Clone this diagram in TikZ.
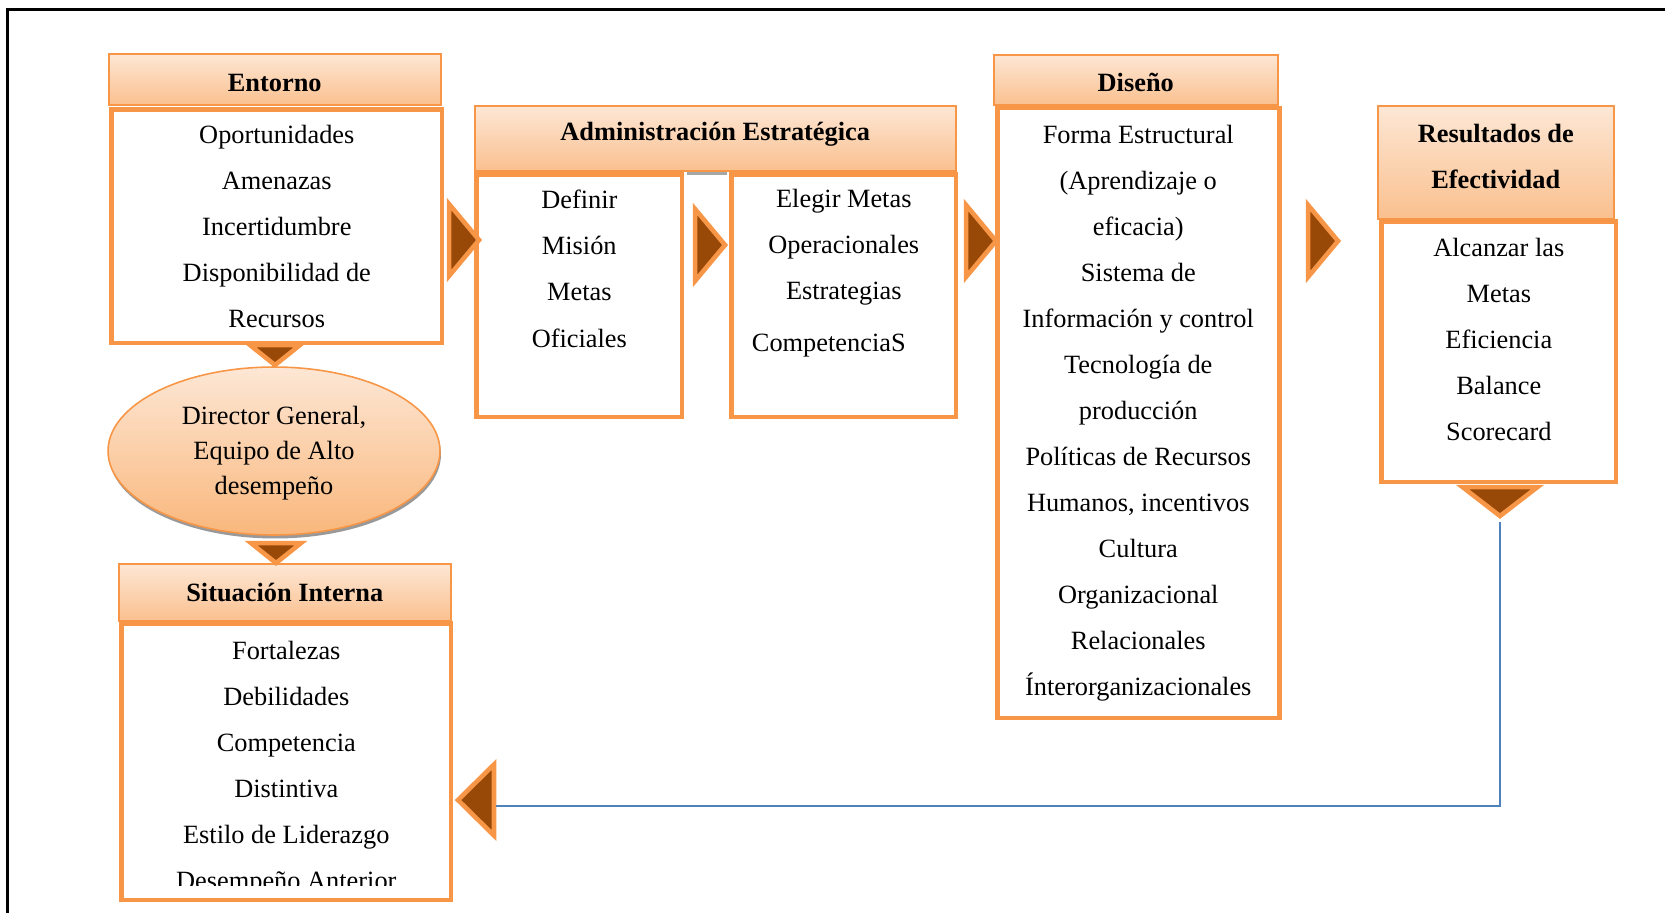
\documentclass[tikz,border=0pt]{standalone}
\usepackage{fontspec}
\setmainfont{Liberation Serif}
\usepackage{tikz}
\usetikzlibrary{shapes.geometric,shadows,positioning}
\definecolor{orgline}{HTML}{F79646}
\definecolor{hdtop}{HTML}{FDE7D5}
\definecolor{hdbot}{HTML}{FAC08F}
\definecolor{elbot}{HTML}{F9B77C}
\definecolor{arrbrown}{HTML}{984807}
\definecolor{fbblue}{HTML}{4F81BD}
\newcommand\boxfont{\fontsize{15}{26.2}\selectfont}
\newcommand\ovalfont{\fontsize{15}{19.9}\selectfont}
\tikzset{
    headbox/.style={
        rectangle,
        draw=orgline,
        line width=0.9pt,
        top color=hdtop,
        bottom color=hdbot,
        inner sep=0pt,
        anchor=north west,
    },
    bodybox/.style={
        rectangle,
        draw=orgline,
        line width=2.6pt,
        fill=white,
        inner sep=0pt,
        anchor=north west,
    },
    headtext/.style={
        align=center,
        font=\boxfont\bfseries,
        inner sep=0pt,
    },
    boxtext/.style={
        align=center,
        font=\boxfont,
        inner sep=0pt,
    },
    oval/.style={
        ellipse,
        draw=orgline,
        line width=0.9pt,
        top color=hdtop,
        bottom color=elbot,
        align=center,
        font=\ovalfont,
        inner sep=0pt,
        drop shadow={shadow xshift=0.02cm, shadow yshift=-0.07cm, fill=black!40, opacity=1},
    },
    flowtri/.style={
        isosceles triangle,
        isosceles triangle stretches=true,
        draw=orgline,
        fill=arrbrown,
        line width=2.6pt,
        inner sep=0pt,
        anchor=apex,
    },
    feedback/.style={
        draw=fbblue,
        line width=1.2pt,
    },
    frameline/.style={
        draw=black,
        line width=1.4pt,
    },
}
\begin{document}
\begin{tikzpicture}[x=0.02cm, y=-0.02cm]
    \useasboundingbox (0,0) rectangle (1665,913);
    \draw[frameline] (7.5,913) |- (1665,9.5);

    % entorno y director
    \node[headbox, minimum width=6.64cm, minimum height=1.02cm] (entH) at (108,53) {};
    \node[headtext] (entHT) at ([yshift=-0.07cm]entH.center) {Entorno};
    \node[bodybox, minimum width=6.61cm, minimum height=4.67cm] (entB) at (109.3,107.3) {};
    \node[boxtext] (entTxt) at (entB.center) {Oportunidades\\Amenazas\\Incertidumbre\\Disponibilidad de\\Recursos};
    \node[oval, minimum width=6.64cm, minimum height=3.36cm] (dirE) at (274,451) {};
    \node[align=center, font=\ovalfont, inner sep=0pt] (dirTxt) at ([yshift=-0.05cm]dirE.center) {Director General,\\Equipo de Alto\\desempeño};

    % administracion estrategica
    \node[headbox, minimum width=9.62cm, minimum height=1.30cm] (admH) at (474,105) {};
    \node[headtext] (admHT) at ([yshift=0.08cm]admH.center) {Administración Estratégica};
    \node[bodybox, minimum width=4.11cm, minimum height=4.85cm] (defB) at (474.3,172.3) {};
    \node[boxtext] (defTxt) at ([yshift=0.54cm]defB.center) {Definir\\Misión\\Metas\\Oficiales};
    \node[bodybox, minimum width=4.49cm, minimum height=4.85cm] (eleB) at (729.3,172.3) {};
    \node[boxtext] (eleTxt) at ([yshift=0.46cm]eleB.center) {Elegir Metas\\Operacionales\\Estrategias\\[3.4pt]CompetenciaS\hspace*{0.6cm}};
    \draw[gray!70, line width=1.7pt, shorten <=1.3pt, shorten >=1.3pt]
        ([yshift=-0.026cm]defB.north east) -- ([yshift=-0.026cm]eleB.north west);

    % diseno
    \node[headbox, minimum width=5.68cm, minimum height=1.0cm] (disH) at (993,54) {};
    \node[headtext] (disHT) at ([yshift=-0.06cm]disH.center) {Diseño};
    \node[bodybox, minimum width=5.64cm, minimum height=12.21cm] (disB) at (995,105.5) {};
    \node[boxtext] (disTxt) at (disB.center) {Forma Estructural\\(Aprendizaje o\\eficacia)\\Sistema de\\Información y control\\Tecnología de\\producción\\Políticas de Recursos\\Humanos, incentivos\\Cultura\\Organizacional\\Relacionales\\Ínterorganizacionales};

    % resultados
    \node[headbox, minimum width=4.72cm, minimum height=2.26cm] (resH) at (1377,105) {};
    \node[headtext] (resHT) at ([yshift=0.12cm]resH.center) {Resultados de\\Efectividad};
    \node[bodybox, minimum width=4.69cm, minimum height=5.21cm] (resB) at (1379.3,219.3) {};
    \node[boxtext] (resTxt) at ([yshift=0.25cm]resB.center) {Alcanzar las\\Metas\\Eficiencia\\Balance\\Scorecard};

    % situacion interna
    \node[headbox, minimum width=6.64cm, minimum height=1.14cm] (sitH) at (118,563) {};
    \node[headtext] (sitHT) at (sitH.center) {Situación Interna};
    \node[bodybox, minimum width=6.59cm, minimum height=5.53cm] (sitB) at (119.3,621.3) {};
    \begin{scope}
        \clip (122,624) rectangle (446,885);
        \node[boxtext] (sitTxt) at ([yshift=-0.12cm]sitB.center) {Fortalezas\\Debilidades\\Competencia\\Distintiva\\Estilo de Liderazgo\\Desempeño Anterior};
    \end{scope}

    % flechas
    \node[flowtri, minimum height=0.6cm, minimum width=1.44cm] (arrA) at (485,240) {};
    \node[flowtri, minimum height=0.6cm, minimum width=1.44cm] (arrB) at (731,245) {};
    \node[flowtri, minimum height=0.6cm, minimum width=1.44cm] (arrC) at (1002,241) {};
    \node[flowtri, minimum height=0.6cm, minimum width=1.44cm] (arrD) at (1344,241) {};
    \node[flowtri, rotate=180, minimum height=0.72cm, minimum width=1.42cm] (arrE) at (452,800) {};
    \node[flowtri, rotate=-90, minimum height=0.40cm, minimum width=1.00cm] (triA) at (275,371) {};
    \node[flowtri, rotate=-90, minimum height=0.40cm, minimum width=1.00cm] (triB) at (276,569) {};
    \node[flowtri, rotate=-90, minimum height=0.58cm, minimum width=1.50cm] (triC) at (1500,522) {};
    \draw[feedback] (triC.apex) |- ([yshift=-0.12cm]arrE.lower side);
\end{tikzpicture}
\end{document}
